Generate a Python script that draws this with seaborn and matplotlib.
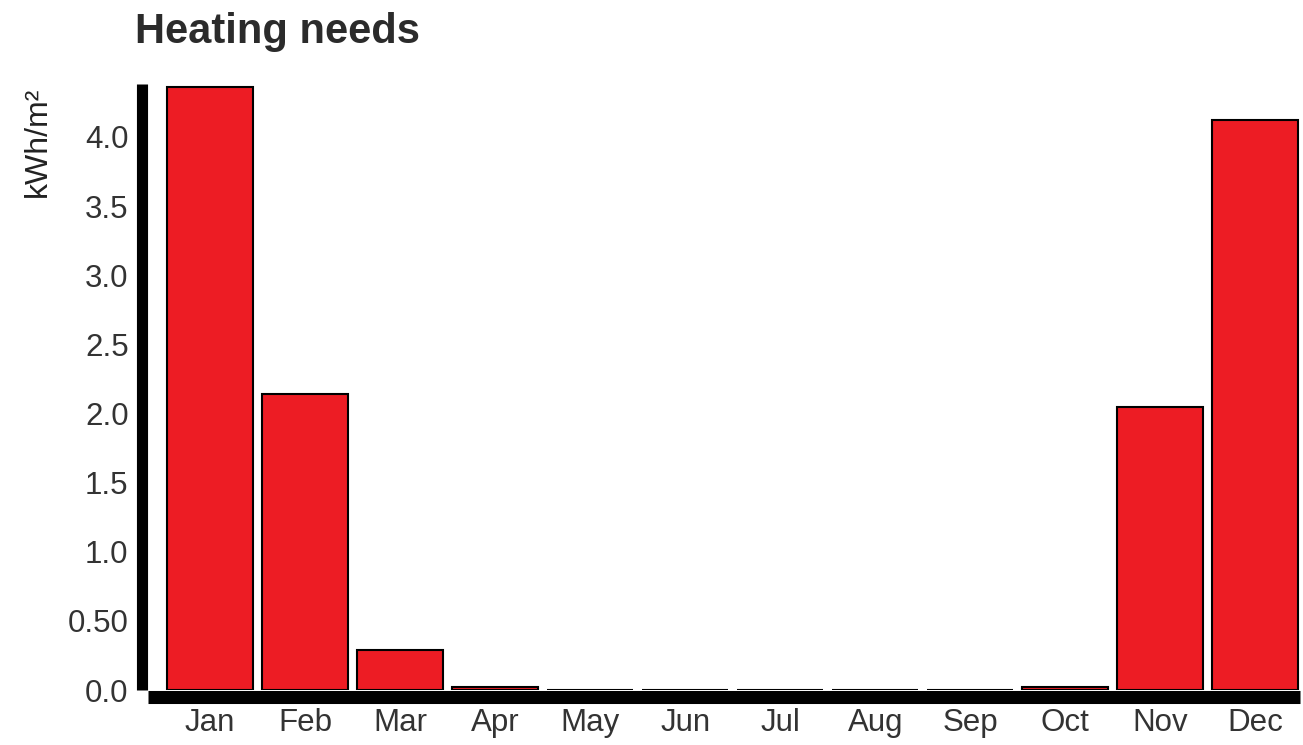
import matplotlib
matplotlib.use('Agg')
import matplotlib.pyplot as plt
import seaborn as sns
import pandas as pd

# ---- data ----
months = ["Jan", "Feb", "Mar", "Apr", "May", "Jun", "Jul", "Aug", "Sep", "Oct", "Nov", "Dec"]
heating = [4.36, 2.14, 0.29, 0.02, 0.0, 0.0, 0.0, 0.0, 0.0, 0.02, 2.05, 4.12]
yticks = [0.0, 0.5, 1.0, 1.5, 2.0, 2.5, 3.0, 3.5, 4.0]
ytick_labels = ["0.0", "0.50", "1.0", "1.5", "2.0", "2.5", "3.0", "3.5", "4.0"]
title = "Heating needs"
ylabel = "kWh/m²"

sns.set_theme(style="white")
plt.rcParams['font.family'] = ['Liberation Sans', 'DejaVu Sans']

W, H = 1303, 745
fig = plt.figure(figsize=(W / 100, H / 100), dpi=100)
ax_left, ax_right, ax_top, ax_bottom = 148, 1300, 84, 690
ax = fig.add_axes([ax_left / W, 1 - ax_bottom / H, (ax_right - ax_left) / W, (ax_bottom - ax_top) / H])

df = pd.DataFrame({"month": months, "value": heating})
sns.barplot(data=df, x="month", y="value", order=months, color="#ED1C24",
            saturation=1, edgecolor="black", linewidth=1.5, width=0.905, ax=ax)

ax.set_xlim(-0.653, 11.47)
ax.set_ylim(0, 4.383)
ax.set_yticks(yticks)
ax.set_yticklabels(ytick_labels)
ax.set_xlabel("")
ax.set_ylabel(ylabel, fontsize=23, color="#222222", loc="top")
ax.yaxis.set_label_coords(-0.083, 0.995)

for s in ["top", "right"]:
    ax.spines[s].set_visible(False)
ax.spines["left"].set_linewidth(8)
ax.spines["left"].set_color("black")
ax.spines["left"].set_position(("outward", 4))
ax.spines["left"].set_capstyle("butt")
ax.spines["bottom"].set_linewidth(9.4)
ax.spines["bottom"].set_color("black")
ax.spines["bottom"].set_position(("outward", 4.7))
ax.spines["bottom"].set_capstyle("butt")

ax.tick_params(axis="both", length=0, labelsize=22.5, labelcolor="#333333")
ax.tick_params(axis="y", pad=10)
ax.tick_params(axis="x", pad=8.5)
ax.grid(False)

fig.text(135 / W, 1 - 32 / H, title, fontsize=30, fontweight="bold",
         color="#2b2b2b", ha="left", va="center")

fig.savefig("out.png", dpi=100)
